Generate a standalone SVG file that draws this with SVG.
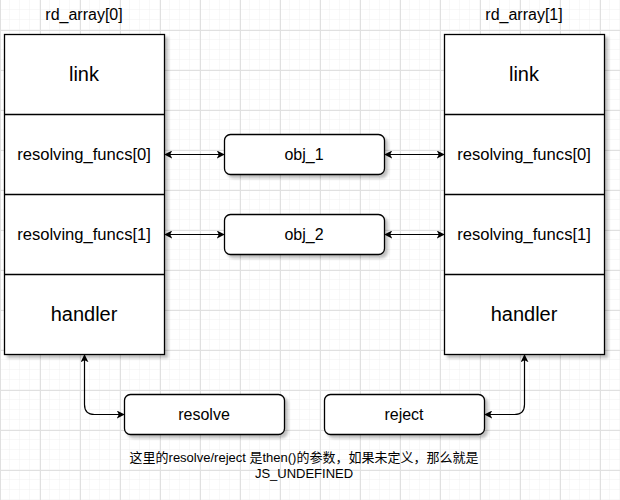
<svg xmlns="http://www.w3.org/2000/svg" width="620" height="500" viewBox="0 0 620 500">
<style>
text{font-family:"Liberation Sans","Noto Sans CJK SC",Arial,sans-serif;fill:#000;text-anchor:middle}
.box{fill:#fff;stroke:#000;stroke-width:1.3;filter:url(#sh)}
.row{fill:none;stroke:#000;stroke-width:1.3}
.t20{font-size:20px}.t16{font-size:16px}.t165{font-size:16.6px}.t13{font-size:13px}
.edge{fill:none;stroke:#000;stroke-width:1.2;marker-start:url(#arr);marker-end:url(#arr)}
</style>
<defs>
<pattern id="minor" width="10" height="10" patternUnits="userSpaceOnUse">
<path d="M10 0V10M0 10H10" stroke="#f0f0f0" stroke-width="1" fill="none"/>
</pattern>
<pattern id="grid" x="0" y="30" width="40" height="40" patternUnits="userSpaceOnUse">
<rect width="40" height="40" fill="url(#minor)"/>
<path d="M0.5 0V40M0 0.5H40" stroke="#e0e0e0" stroke-width="1" fill="none"/>
</pattern>
<filter id="sh" x="-10%" y="-10%" width="130%" height="130%">
<feGaussianBlur in="SourceAlpha" stdDeviation="1.5"/>
<feOffset dx="3" dy="3"/>
<feComponentTransfer><feFuncA type="linear" slope="0.25"/></feComponentTransfer>
<feMerge><feMergeNode/><feMergeNode in="SourceGraphic"/></feMerge>
</filter>
<marker id="arr" viewBox="0 0 10 10" refX="9" refY="5" markerWidth="8" markerHeight="8" orient="auto-start-reverse" markerUnits="userSpaceOnUse">
<path d="M0 0L10 5L0 10L2.5 5z" fill="#000"/>
</marker>
</defs>
<rect width="620" height="500" fill="#fff"/>
<rect width="620" height="500" fill="url(#grid)"/>

<g id="title0"><text class="t16" x="84" y="20">rd_array[0]</text></g>
<g id="title1"><text class="t16" x="524" y="20">rd_array[1]</text></g>

<g id="rd_array0">
<rect class="box" x="4.5" y="34.5" width="160" height="320"/>
<path class="row" d="M4.5 114.5H164.5M4.5 194.5H164.5M4.5 274.5H164.5"/>
<text class="t20" x="84" y="81">link</text>
<text class="t165" x="84" y="160">resolving_funcs[0]</text>
<text class="t165" x="84" y="240">resolving_funcs[1]</text>
<text class="t20" x="84" y="321">handler</text>
</g>

<g id="rd_array1">
<rect class="box" x="444.5" y="34.5" width="160" height="320"/>
<path class="row" d="M444.5 114.5H604.5M444.5 194.5H604.5M444.5 274.5H604.5"/>
<text class="t20" x="524" y="81">link</text>
<text class="t165" x="524" y="160">resolving_funcs[0]</text>
<text class="t165" x="524" y="240">resolving_funcs[1]</text>
<text class="t20" x="524" y="321">handler</text>
</g>

<g id="obj_1">
<rect class="box" x="224.5" y="134.5" width="160" height="40" rx="6"/>
<text class="t16" x="304" y="160">obj_1</text>
</g>
<g id="obj_2">
<rect class="box" x="224.5" y="214.5" width="160" height="40" rx="6"/>
<text class="t16" x="304" y="240">obj_2</text>
</g>
<g id="resolve">
<rect class="box" x="124.5" y="394.5" width="160" height="40" rx="6"/>
<text class="t16" x="204" y="420">resolve</text>
</g>
<g id="reject">
<rect class="box" x="324.5" y="394.5" width="160" height="40" rx="6"/>
<text class="t16" x="404" y="420">reject</text>
</g>

<g id="connectors">
<path class="edge" d="M165 154.5H224"/>
<path class="edge" d="M385 154.5H444"/>
<path class="edge" d="M165 234.5H224"/>
<path class="edge" d="M385 234.5H444"/>
<path class="edge" d="M84.5 355V404.5Q84.5 414.5 94.5 414.5H124"/>
<path class="edge" d="M524.5 355V404.5Q524.5 414.5 514.5 414.5H485"/>
</g>

<g id="note">
<text class="t13" x="304" y="462">这里的resolve/reject 是then()的参数，如果未定义，那么就是</text>
<text class="t13" x="304" y="478">JS_UNDEFINED</text>
</g>
</svg>
